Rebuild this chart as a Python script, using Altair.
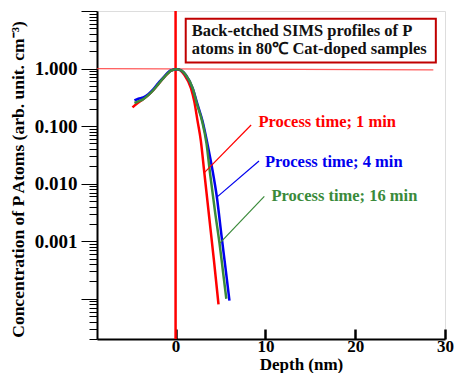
import altair as alt
import pandas as pd

# ---------------- data ----------------
red_x = [-4.8, -4.36, -3.59, -3.04, -2.49, -1.94, -1.39, -0.85, -0.48, 0.18, 0.99, 1.71, 2.08, 2.45, 2.81, 3.2, 3.77, 4.3, 4.78]
red_y = [0.212, 0.243, 0.295, 0.345, 0.42, 0.532, 0.675, 0.83, 0.924, 0.97, 0.77, 0.455, 0.269, 0.122, 0.056, 0.0155, 0.0024, 0.00042, 0.00008]

blue_x = [-4.58, -4.14, -3.59, -3.04, -2.49, -1.94, -1.39, -0.85, -0.48, 0.18, 1.16, 1.9, 2.45, 3.0, 3.55, 4.1, 4.6, 5.1, 5.55, 6.0]
blue_y = [0.279, 0.299, 0.316, 0.359, 0.436, 0.555, 0.69, 0.855, 0.933, 0.97, 0.767, 0.455, 0.236, 0.122, 0.049, 0.0175, 0.0058, 0.0013, 0.00035, 0.000093]

green_x = [-4.58, -4.14, -3.59, -3.04, -2.49, -1.94, -1.39, -0.85, -0.48, 0.18, 1.16, 1.9, 2.4, 2.95, 3.45, 3.84, 4.4, 4.9, 5.3, 5.65]
green_y = [0.252, 0.269, 0.295, 0.345, 0.42, 0.532, 0.675, 0.83, 0.924, 0.97, 0.767, 0.455, 0.236, 0.122, 0.049, 0.015, 0.0032, 0.0009, 0.00028, 0.0001]

series_names = ["Process time; 1 min", "Process time; 4 min", "Process time; 16 min"]
series_colors = ["#ff0000", "#0000ee", "#3a8a3a"]
text_colors = ["#ff0000", "#0000dd", "#3f7f3f"]

# annotation anchors (data coordinates)
label_x = [9.22, 9.95, 10.68]
label_y = [0.119, 0.0238, 0.00614]
pointer_x1 = [8.41, 9.29, 9.88]
pointer_y1 = [0.1045, 0.0247, 0.006]
pointer_x2 = [3.18, 4.57, 4.90]
pointer_y2 = [0.0154, 0.00577, 0.000917]

box_lines = ["Back-etched SIMS profiles of P", "atoms in 80\u2103 Cat-doped samples"]
box_line_x = [1.79, 1.79]
box_line_y = [4.52, 2.22]
box_x = [1.13]
box_x2 = [28.98]
box_y = [1.28]
box_y2 = [7.33]

hline_x = [-8.75]
hline_x2 = [28.7]
hline_y = [1.0]
hline_y2 = [0.95]
vline_x = [0]

x_ticks = [0, 10, 20, 30]
y_major = [10, 1, 0.1, 0.01, 0.001, 0.0001]
y_major_labels = ["", "1.000", "0.100", "0.010", "0.001", ""]
y_minor = [m * 10.0 ** e for e in range(-5, 1) for m in range(2, 10)]

x_domain = [-8.75, 30]
y_domain = [2e-5, 10]

x_title = "Depth  (nm)"
y_title = "Concentration of P Atoms (arb. unit. cm\u207b\u00b3)"

FONT = "Liberation Serif"
W, H = 348, 328

# ---------------- build ----------------
xs = alt.Scale(domain=x_domain, nice=False, zero=False)
ys = alt.Scale(type="log", domain=y_domain, nice=False)

label_expr = " : ".join(
    f"datum.value == {v} ? '{l}'" for v, l in zip(y_major, y_major_labels)
) + " : ''"

x_axis = alt.Axis(values=x_ticks, tickSize=0, labelFont=FONT, labelFontWeight="bold",
                  labelFontSize=17, labelBaseline="middle", labelPadding=7, labelColor="black",
                  labelFlush=False, domainColor="black", domainWidth=2, grid=False,
                  title=x_title, titleFont=FONT, titleFontWeight="bold", titleFontSize=17,
                  titleX=204, titleY=25, titleBaseline="middle", titleColor="black")
y_axis = alt.Axis(values=y_major, labelExpr=label_expr, tickSize=16, tickColor="black",
                  tickWidth=1, labelFont=FONT, labelFontWeight="bold", labelFontSize=19,
                  labelPadding=4, labelColor="black", labelFlush=False,
                  domainColor="black", domainWidth=2,
                  grid=False, title=y_title, titleFont=FONT, titleFontWeight="bold",
                  titleFontSize=17.5, titleX=-79, titleY=168, titleBaseline="middle",
                  titleColor="black")

curve_data = [(red_x, red_y), (blue_x, blue_y), (green_x, green_y)]
layers = []

# horizontal reference line
hdf = pd.DataFrame({"x": hline_x, "x2": hline_x2, "y": hline_y, "y2": hline_y2})
layers.append(alt.Chart(hdf).mark_rule(color="#ff3030", strokeWidth=1.2, opacity=0.8).encode(
    x=alt.X("x:Q", scale=xs, axis=x_axis), x2="x2:Q",
    y=alt.Y("y:Q", scale=ys, axis=y_axis), y2="y2:Q"))

# vertical line at 0
vdf = pd.DataFrame({"x": vline_x})
layers.append(alt.Chart(vdf).mark_rule(color="#ff0000", strokeWidth=2.5).encode(
    x=alt.X("x:Q", scale=xs)))

# curves
for (cx, cy), name, col in zip(curve_data, series_names, series_colors):
    cdf = pd.DataFrame({"depth": cx, "conc": cy, "order": range(len(cx))})
    layers.append(alt.Chart(cdf).mark_line(color=col, strokeWidth=2.5, interpolate="monotone").encode(
        x=alt.X("depth:Q", scale=xs), y=alt.Y("conc:Q", scale=ys), order="order:Q"))

# pointers
pdf = pd.DataFrame({"x": pointer_x1, "y": pointer_y1, "x2": pointer_x2, "y2": pointer_y2,
                    "name": series_names})
layers.append(alt.Chart(pdf).mark_rule(strokeWidth=1.2).encode(
    x=alt.X("x:Q", scale=xs), y=alt.Y("y:Q", scale=ys), x2="x2:Q", y2="y2:Q",
    color=alt.Color("name:N", scale=alt.Scale(domain=series_names, range=series_colors), legend=None)))

# series labels
ldf = pd.DataFrame({"x": label_x, "y": label_y, "name": series_names})
layers.append(alt.Chart(ldf).mark_text(align="left", baseline="middle", font=FONT,
                                        fontWeight="bold", fontSize=16.5).encode(
    x=alt.X("x:Q", scale=xs), y=alt.Y("y:Q", scale=ys), text="name:N",
    color=alt.Color("name:N", scale=alt.Scale(domain=series_names, range=text_colors), legend=None)))

# title box
bdf = pd.DataFrame({"x": box_x, "x2": box_x2, "y": box_y, "y2": box_y2})
layers.append(alt.Chart(bdf).mark_rect(fill="white", stroke="#c00000", strokeWidth=2).encode(
    x=alt.X("x:Q", scale=xs), x2="x2:Q", y=alt.Y("y:Q", scale=ys), y2="y2:Q"))
tdf = pd.DataFrame({"x": box_line_x, "y": box_line_y, "t": box_lines})
layers.append(alt.Chart(tdf).mark_text(align="left", baseline="middle", font=FONT,
                                        fontWeight="bold", fontSize=16.5, color="#111111").encode(
    x=alt.X("x:Q", scale=xs), y=alt.Y("y:Q", scale=ys), text="t:N"))

main = alt.layer(*layers)

# extra axes: minor y ticks and inward x ticks
kdf = pd.DataFrame({"v": y_minor, "xv": [x_ticks[0]] * len(y_minor)})
tick_layer = alt.Chart(kdf).mark_point(opacity=0).encode(
    x=alt.X("xv:Q", scale=alt.Scale(domain=x_domain, nice=False, zero=False),
            axis=alt.Axis(orient="top", offset=-H, values=x_ticks, tickSize=10, tickWidth=2.5,
                          tickColor="black", labels=False, domain=False, grid=False, title=None)),
    y=alt.Y("v:Q", scale=alt.Scale(type="log", domain=y_domain, nice=False),
            axis=alt.Axis(orient="left", values=y_minor, tickSize=8, tickColor="black", tickWidth=1,
                          labels=False, domain=False, grid=False, title=None)))

chart = alt.layer(main, tick_layer).resolve_scale(x="independent", y="independent").properties(
    width=W, height=H,
    autosize=alt.AutoSizeParams(type="none"),
    padding={"left": 89, "top": 3, "right": 9, "bottom": 34},
).configure_view(stroke="black", strokeWidth=2).configure(background="white")

chart.save("out.html", embed_options={"renderer": "svg", "actions": False})
